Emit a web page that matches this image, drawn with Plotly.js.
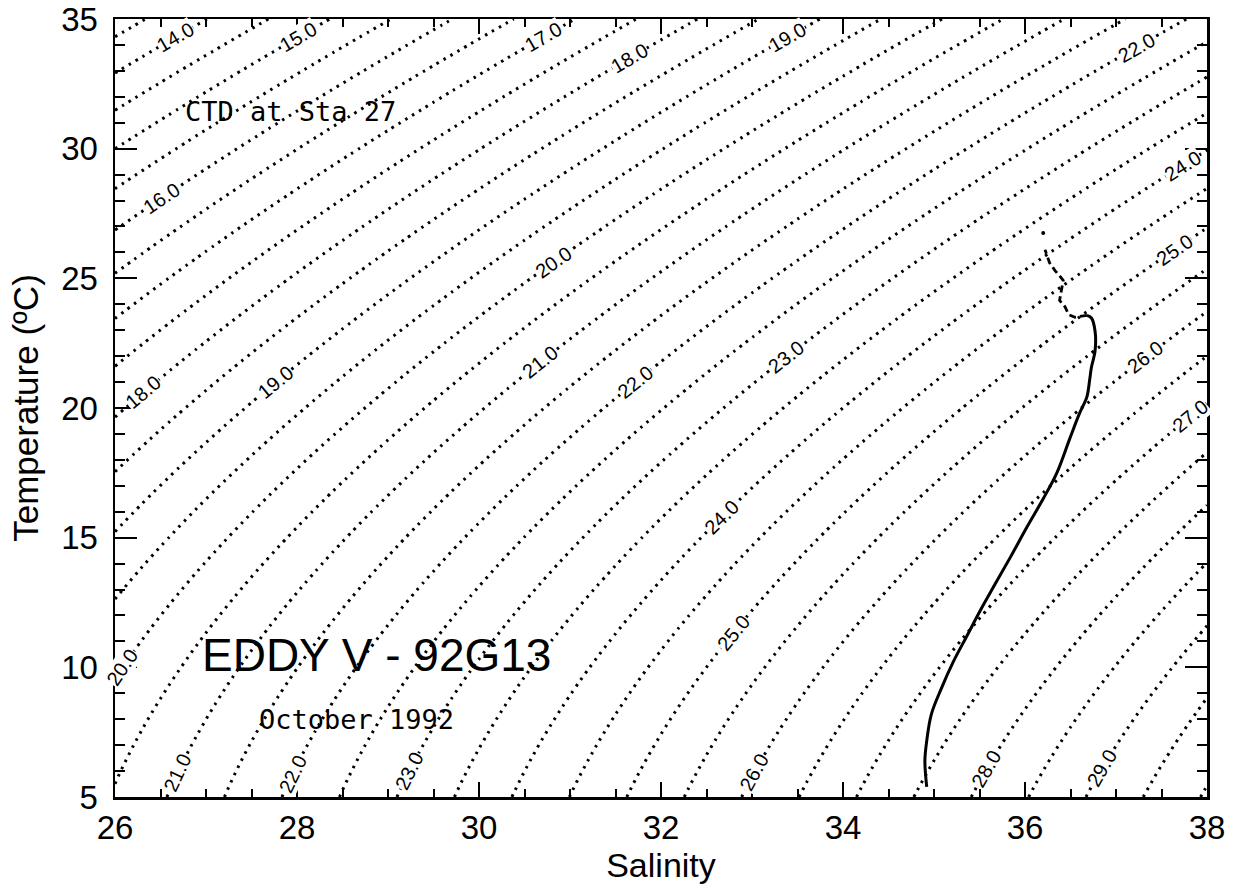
<!DOCTYPE html>
<html><head><meta charset="utf-8">
<script src="https://cdn.plot.ly/plotly-3.0.1.min.js"></script>
<style>html,body{margin:0;padding:0;background:#fff}#chart{width:1243px;height:886px}</style>
</head><body><div id="chart"></div>
<script>
// ---- CTD profile at Sta 27 ----
const ctdSalinity = [34.92,34.90,34.92,34.97,35.08,35.21,35.36,35.51,35.67,35.84,36.02,36.20,36.35,36.49,36.60,36.68,36.71,36.73,36.77,36.77,36.73,36.68];
const ctdTemp     = [5.39, 6.40, 7.16, 8.18, 9.18, 10.2, 11.2, 12.2, 13.2, 14.25,15.4, 16.5, 17.5, 18.8, 19.8, 20.43,21.07,21.57,22.2, 22.96,23.47,23.57];
// noisy near-surface part (drawn broken)
const ctdUpperSalinity = [36.68,36.55,36.48,36.44,36.38,36.40,36.42,36.38,36.33,36.27,36.24,36.22];
const ctdUpperTemp     = [23.57,23.50,23.60,23.90,24.15,24.54,24.92,25.10,25.30,25.60,25.87,26.10];
const ctdTopSalinity = [36.20];
const ctdTopTemp     = [26.75];

// ---- sigma-t field: UNESCO (1981) equation of state at surface pressure ----
const eosPureWater = [999.842594, 6.793952e-2, -9.095290e-3, 1.001685e-4, -1.120083e-6, 6.536332e-9];
const eosA = [8.24493e-1, -4.0899e-3, 7.6438e-5, -8.2467e-7, 5.3875e-9];
const eosB = [-5.72466e-3, 1.0227e-4, -1.6546e-6];
const eosC = 4.8314e-4;
const salinityRange = [26, 38];
const temperatureRange = [5, 35];
const contourStart = 13.5, contourEnd = 30, contourStep = 0.5;

// contour label placement: [sigma-t level, temperature where the label sits]
const labelLevels = [14,15,17,18,19,22,16,20,24,25,18,19,21,22,23,26,27,24,25,20,21,22,23,26,28,29];
const labelTemps  = [34.3,34.3,34.3,33.5,34.3,33.9,28.1,25.63,29.35,26.1,20.6,21.0,21.76,21.0,21.95,21.95,19.68,15.8,11.33,10.0,5.95,5.9,6.0,5.95,6.1,6.1];

function poly(c, t){ let v=0, p=1; for (const k of c){ v += k*p; p *= t; } return v; }
function sigmaT(S, T){
  const rho = poly(eosPureWater,T) + poly(eosA,T)*S + poly(eosB,T)*Math.pow(S,1.5) + eosC*S*S;
  return rho - 1000;
}
const salGrid = [], tempGrid = [];
for (let i = 0; i <= 120; i++) salGrid.push(salinityRange[0] + i*0.1);
for (let j = 0; j <= 120; j++) tempGrid.push(temperatureRange[0] + j*0.25);
const sigmaGrid = tempGrid.map(T => salGrid.map(S => sigmaT(S, T)));

function salinityOnLevel(v, T){
  let lo = 0, hi = 45;
  for (let k = 0; k < 60; k++){ const m=(lo+hi)/2; if (sigmaT(m,T) < v) lo = m; else hi = m; }
  return (lo+hi)/2;
}

const W = 1243, H = 886;
const M = {l:115, r:36, t:19, b:89};
const kx = (W - M.l - M.r) / (salinityRange[1]-salinityRange[0]);
const ky = (H - M.t - M.b) / (temperatureRange[1]-temperatureRange[0]);

const annotations = labelLevels.map((v, i) => {
  const T = labelTemps[i];
  const S = salinityOnLevel(v, T);
  const h = 1e-3;
  const gS = (sigmaT(S+h,T) - sigmaT(S-h,T)) / (2*h);
  const gT = (sigmaT(S,T+h) - sigmaT(S,T-h)) / (2*h);
  const dx = -gT * kx, dy = -gS * ky;
  const ang = Math.atan2(dy, dx) * 180 / Math.PI;
  return {x:S, y:T, xref:'x', yref:'y', text:v.toFixed(1), showarrow:false, textangle:ang,
          font:{family:'Liberation Sans, Arial, sans-serif', size:20, color:'black'},
          bgcolor:'white', borderpad:0};
});
annotations.push(
  {x:27.93, y:31.43, xref:'x', yref:'y', text:'CTD at Sta 27', showarrow:false,
   font:{family:'DejaVu Sans Mono, monospace', size:27, color:'black'}},
  {x:28.87, y:10.46, xref:'x', yref:'y', text:'EDDY V - 92G13', showarrow:false,
   font:{family:'Liberation Sans, Arial, sans-serif', size:46, color:'black'}},
  {x:28.65, y:7.98, xref:'x', yref:'y', text:'October 1992', showarrow:false,
   font:{family:'DejaVu Sans Mono, monospace', size:27, color:'black'}}
);

const traces = [
  {type:'contour', x:salGrid, y:tempGrid, z:sigmaGrid, showscale:false, hoverinfo:'skip',
   contours:{coloring:'none', start:contourStart, end:contourEnd, size:contourStep, showlabels:false},
   line:{color:'black', width:3, dash:'2.5px,5.5px', smoothing:1}},
  {type:'scatter', mode:'lines', x:ctdSalinity, y:ctdTemp, line:{color:'black', width:3, shape:'spline'}, hoverinfo:'skip'},
  {type:'scatter', mode:'lines', x:ctdUpperSalinity, y:ctdUpperTemp, line:{color:'black', width:2.8, dash:'7px,4px'}, hoverinfo:'skip'},
  {type:'scatter', mode:'markers', x:ctdTopSalinity, y:ctdTopTemp, marker:{color:'black', size:4}, hoverinfo:'skip'}
];

const axisCommon = {showgrid:false, zeroline:false, showline:true, linecolor:'black', linewidth:2.5,
  mirror:'ticks', ticks:'inside', tickcolor:'black', tickwidth:2, ticklabeloverflow:'allow',
  tickfont:{family:'Liberation Sans, Arial, sans-serif', size:33, color:'black'}};

const layout = {
  width:W, height:H, margin:M, showlegend:false,
  paper_bgcolor:'white', plot_bgcolor:'white',
  font:{family:'Liberation Sans, Arial, sans-serif', color:'black'},
  xaxis: Object.assign({}, axisCommon, {range:salinityRange, tick0:26, dtick:2, ticklen:15,
    minor:{dtick:0.5, ticks:'inside', ticklen:8, tickwidth:2, tickcolor:'black', showgrid:false},
    title:{text:'Salinity', font:{size:34}, standoff:2}}),
  yaxis: Object.assign({}, axisCommon, {range:temperatureRange, tick0:5, dtick:5, ticklen:22,
    ticklabelstandoff:8,
    minor:{dtick:1, ticks:'inside', ticklen:10, tickwidth:2, tickcolor:'black', showgrid:false},
    title:{text:'Temperature (ºC)', font:{size:35}, standoff:12}}),
  annotations: annotations
};

Plotly.newPlot('chart', traces, layout, {staticPlot:true});
</script>
</body></html>
